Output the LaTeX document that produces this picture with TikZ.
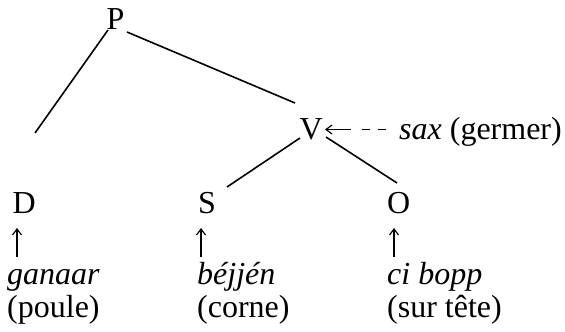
\documentclass[tikz,border=0pt]{standalone}
\usepackage{fontspec}
\setmainfont{Liberation Serif}
\usetikzlibrary{arrows.meta}
\begin{document}
\begin{tikzpicture}[x=1pt,y=1pt,
  lab/.style={inner sep=0pt, anchor=base west, font=\fontsize{32}{36}\selectfont},
  branch/.style={line width=1.6pt},
  uparr/.style={line width=1.2pt, -{Straight Barb[length=6pt,width=9pt]}},
  leftarr/.style={line width=1.2pt, {Straight Barb[length=6pt,width=9pt]}-,
    dash pattern=on 24pt off 11pt on 8pt off 8pt on 8pt off 20pt}]
\useasboundingbox (0,0) rectangle (565,332);
% tree labels
\node[lab] (P) at (106.5,302) {P};
\node[lab] (V) at (299.5,192) {V};
\node[lab] (D) at (12.5,118) {D};
\node[lab] (S) at (198,118) {S};
\node[lab] (O) at (387,118) {O};
% gloss under each leaf
\node[lab] (ganaar) at (7,47) {\textit{ganaar}};
\node[lab] (bejjen) at (197,47) {\textit{béjjén}};
\node[lab] (cibopp) at (387,47) {\textit{ci bopp}};
\node[lab] (poule) at (7,14) {(poule)};
\node[lab] (corne) at (197,14) {(corne)};
\node[lab] (surtete) at (387,14) {(sur tête)};
\node[lab] (sax) at (399,192) {\textit{sax} (germer)};
% branches
\coordinate (dend) at (35,199);
\draw[branch] ([xshift=1.5pt]P.base west) -- (dend);
\draw[branch] ([shift={(2.3,-2)}]P.base east) -- ([shift={(-4.5,37)}]V.base west);
\draw[branch] ([shift={(0.5,2)}]V.base west) -- ([shift={(29,27)}]S.base west);
\draw[branch] ([shift={(3,3)}]V.base east) -- ([shift={(10,31)}]O.base west);
% arrows
\draw[leftarr] ([shift={(2,10.5)}]V.base east) -- ([shift={(-8,10.5)}]sax.base west);
\draw[uparr] ([shift={(4.5,-43)}]D.base west) -- ([shift={(4.5,-14)}]D.base west);
\draw[uparr] ([shift={(3,-43)}]S.base west) -- ([shift={(3,-14)}]S.base west);
\draw[uparr] ([shift={(7,-43)}]O.base west) -- ([shift={(7,-14)}]O.base west);
\end{tikzpicture}
\end{document}
